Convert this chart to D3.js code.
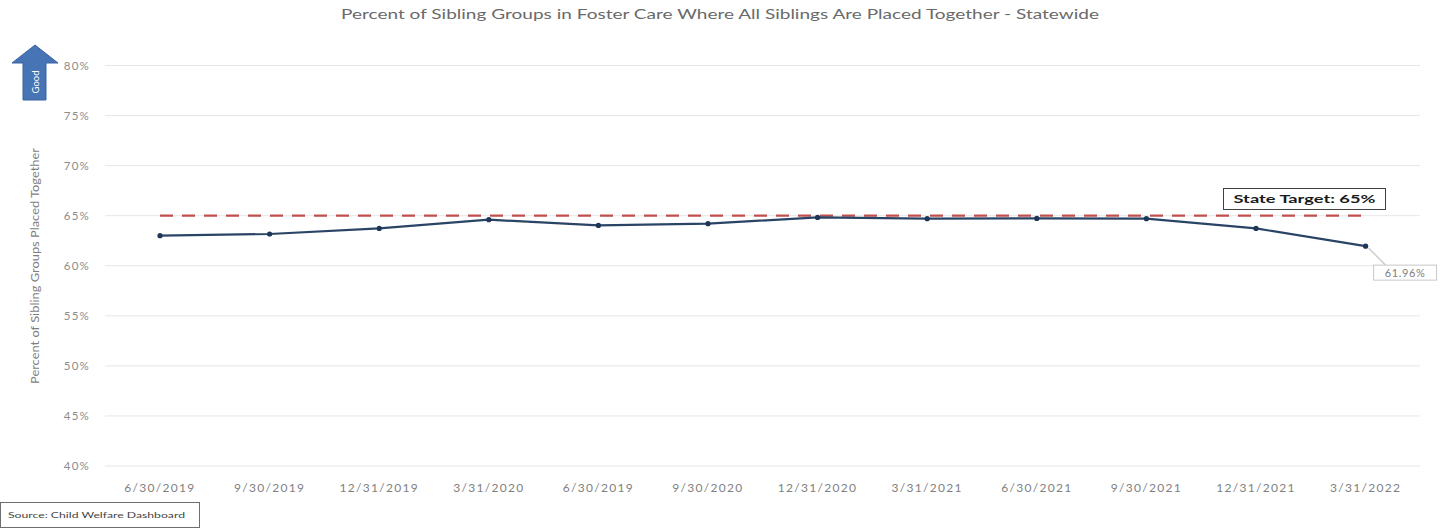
<!DOCTYPE html>
<html><head><meta charset="utf-8">
<script src="https://cdn.jsdelivr.net/npm/d3@7/dist/d3.min.js"></script>
<style>body{margin:0;background:#fff}svg{display:block}text{font-family:Lato,"Open Sans",sans-serif}</style>
</head><body><svg id="c" width="1445" height="529"></svg>
<script>
const categories = ["6/30/2019","9/30/2019","12/31/2019","3/31/2020","6/30/2019","9/30/2020","12/31/2020","3/31/2021","6/30/2021","9/30/2021","12/31/2021","3/31/2022"];
const statewide = [63.0,63.17,63.73,64.6,64.03,64.2,64.83,64.7,64.73,64.7,63.73,61.96];
const target = [65,65,65,65,65,65,65,65,65,65,65,65];
const yTicks = [40,45,50,55,60,65,70,75,80];
const titleText = "Percent of Sibling Groups in Foster Care Where All Siblings Are Placed Together - Statewide";
const yTitle = "Percent of Sibling Groups Placed Together";
const targetLabel = "State Target: 65%";
const sourceText = "Source: Child Welfare Dashboard";

const svg = d3.select("#c");
const x = d3.scaleBand().domain(d3.range(categories.length)).range([105.2, 1420.4]);
const y = d3.scaleLinear().domain([40, 80]).range([466, 65.5]);
const cx = i => x(i) + x.bandwidth() / 2;

// gridlines
svg.append("g").selectAll("line").data(yTicks).join("line")
  .attr("x1", 105).attr("x2", 1420).attr("y1", d => y(d)).attr("y2", d => y(d))
  .attr("stroke", "#e6e6e6").attr("stroke-width", 1);

// y axis labels
const yAxis = d3.axisLeft(y).tickValues(yTicks).tickFormat(d => d + "%").tickSize(0).tickPadding(0);
const ga = svg.append("g").attr("transform", "translate(90,0)").call(yAxis);
ga.select(".domain").remove();
ga.selectAll("text").attr("fill", "#8c8c8c").attr("font-size", 11.5).attr("letter-spacing", 1.2).attr("font-family", "Lato,sans-serif");

// x axis labels
const xAxis = d3.axisBottom(x).tickFormat(i => categories[i]).tickSize(0).tickPadding(0);
const gx = svg.append("g").attr("transform", "translate(0,483)").call(xAxis);
gx.select(".domain").remove();
gx.selectAll("text").attr("fill", "#7f7f7f").attr("font-size", 12).attr("font-family", "Lato,sans-serif").attr("letter-spacing", 1.3);

// target dashed line
svg.append("path").datum(target)
  .attr("d", d3.line().x((d, i) => cx(i)).y(d => y(d)))
  .attr("fill", "none").attr("stroke", "#c0504d").attr("stroke-width", 2.2)
  .attr("stroke-dasharray", "13,9");

// main line
svg.append("path").datum(statewide)
  .attr("d", d3.line().x((d, i) => cx(i)).y(d => y(d)))
  .attr("fill", "none").attr("stroke", "#2a4466").attr("stroke-width", 2.2);
svg.append("g").selectAll("circle").data(statewide).join("circle")
  .attr("cx", (d, i) => cx(i)).attr("cy", d => y(d)).attr("r", 2.6).attr("fill", "#1f3656");

// last data label with leader
const li = statewide.length - 1;
const lx = cx(li), ly = y(statewide[li]);
svg.append("line").attr("x1", lx + 3).attr("y1", ly + 2).attr("x2", lx + 20).attr("y2", ly + 19)
  .attr("stroke", "#d0d0d0").attr("stroke-width", 1.5);
svg.append("rect").attr("x", lx + 8).attr("y", ly + 19).attr("width", 63).attr("height", 15)
  .attr("fill", "#fff").attr("stroke", "#c8c8c8").attr("stroke-width", 1);
svg.append("text").attr("x", lx + 39.5).attr("y", ly + 30.5).attr("text-anchor", "middle")
  .attr("font-size", 11).attr("fill", "#808080").attr("letter-spacing", 0.6).text(d3.format(".2f")(statewide[li]) + "%");

// target label box
svg.append("rect").attr("x", 1223.5).attr("y", 188.5).attr("width", 162).attr("height", 21)
  .attr("fill", "#fff").attr("stroke", "#404040").attr("stroke-width", 1);
svg.append("text").attr("x", 1304.5).attr("y", 203).attr("text-anchor", "middle")
  .attr("font-size", 11).attr("font-weight", "bold").attr("fill", "#1a1a1a")
  .attr("textLength", 142).attr("lengthAdjust", "spacingAndGlyphs").text(targetLabel);

// title
svg.append("text").attr("x", 720).attr("y", 19).attr("text-anchor", "middle")
  .attr("font-size", 12.5).attr("fill", "#6a6a6a").attr("textLength", 758).attr("lengthAdjust", "spacingAndGlyphs").text(titleText);

// y title
svg.append("text").attr("transform", "translate(39,266) rotate(-90)").attr("text-anchor", "middle")
  .attr("font-size", 11).attr("fill", "#7f7f7f").attr("textLength", 236).attr("lengthAdjust", "spacingAndGlyphs").text(yTitle);

// Good arrow
svg.append("path").attr("d", "M35,45 L58,63 L46,63 L46,100 L23,100 L23,63 L12,63 Z")
  .attr("fill", "#4674b4").attr("stroke", "#3a64a0").attr("stroke-width", 1);
svg.append("text").attr("transform", "translate(38.5,82) rotate(-90)").attr("text-anchor", "middle")
  .attr("font-size", 9.5).attr("fill", "#fff").text("Good");

// source box
svg.append("rect").attr("x", 0.5).attr("y", 502.5).attr("width", 199).attr("height", 25)
  .attr("fill", "#fff").attr("stroke", "#6e6e6e").attr("stroke-width", 1);
svg.append("text").attr("x", 8).attr("y", 518).attr("font-size", 7.5).attr("fill", "#444")
  .attr("textLength", 177).attr("lengthAdjust", "spacingAndGlyphs").text(sourceText);
</script></body></html>
